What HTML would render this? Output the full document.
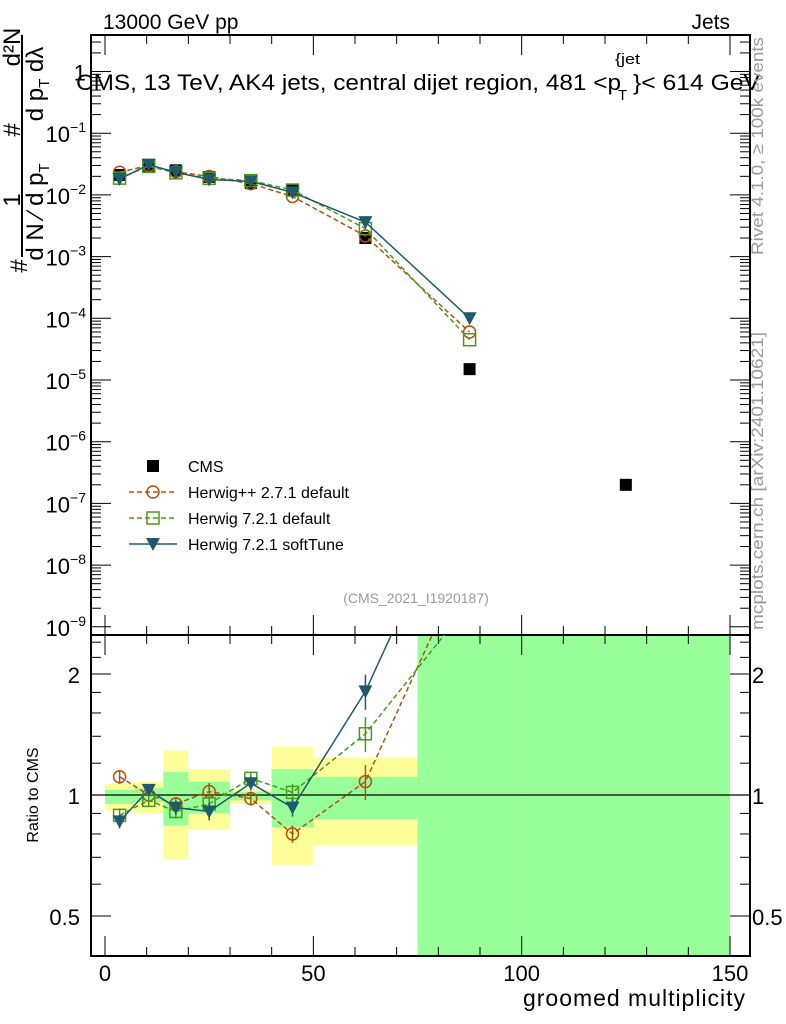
<!DOCTYPE html>
<html><head><meta charset="utf-8">
<style>
html,body{margin:0;background:#fff;overflow:hidden;width:786px;height:1024px;}
svg{display:block;font-family:"Liberation Sans",sans-serif;}
</style></head>
<body>
<svg id="chart" width="786" height="1024" xmlns="http://www.w3.org/2000/svg"></svg>
<script>
const binLo = [0,7,14,20,30,40,50,75,100];
const binHi = [7,14,20,30,40,50,75,100,150];
const binCenters = [3.5,10.5,17,25,35,45,62.5,87.5,125];
const cmsValues = [0.021,0.030,0.025,0.0195,0.0155,0.0118,0.0020,1.5e-5,2.0e-7];
const hppRatio = [1.11,1.0,0.95,1.02,0.98,0.80,1.08];
const h7Ratio = [0.89,0.97,0.91,0.95,1.10,1.015,1.42];
const softRatio = [0.86,1.03,0.93,0.91,1.07,0.93,1.81];
const hppLast = 6.0e-5, h7Last = 4.5e-5, softLast = 1.0e-4;
const ratioErr = [0.04,0.03,0.04,0.05,0.04,0.05,0.1];
const yellowLo = [0.913,0.90,0.69,0.82,0.95,0.67,0.75,0.01,0.01];
const yellowHi = [1.067,1.08,1.29,1.16,1.035,1.32,1.24,100,100];
const greenLo = [0.95,0.96,0.84,0.90,0.97,0.83,0.87,0.01,0.01];
const greenHi = [1.03,1.04,1.14,1.08,1.02,1.16,1.11,100,100];
const xTicks = [0,50,100,150];
const ratioTicks = [0.5,1,2];

const svg = document.getElementById('chart');
const NS = 'http://www.w3.org/2000/svg';
function mk(tag, attrs, parent){const e=document.createElementNS(NS,tag);for(const k in attrs)e.setAttribute(k,attrs[k]);(parent||svg).appendChild(e);return e;}
const L=91,R=750,T1=35,B1=635,B2=956;
const X = v => 105 + v*(730-105)/150;
const Y = v => 71.5 - Math.log10(v)*61.7;
const YR = r => 795 - Math.log2(r)*121;

const defs=mk('defs',{});
const cp=mk('clipPath',{id:'c1'},defs); mk('rect',{x:L,y:T1,width:R-L,height:B1-T1},cp);
const cp2=mk('clipPath',{id:'c2'},defs); mk('rect',{x:L,y:B1,width:R-L,height:B2-B1},cp2);

const bands=mk('g',{'clip-path':'url(#c2)'});


for(let i=0;i<binLo.length;i++){
  const y=mk('rect',{x:X(binLo[i]),y:YR(yellowHi[i]),width:X(binHi[i])-X(binLo[i]),height:YR(yellowLo[i])-YR(yellowHi[i]),fill:'#ffff99'},bands);
  
  
}
for(let i=0;i<binLo.length;i++){
  const g=mk('rect',{x:X(binLo[i]),y:YR(greenHi[i]),width:X(binHi[i])-X(binLo[i]),height:YR(greenLo[i])-YR(greenHi[i]),fill:'#99ff99'},bands);
  
  
}

mk('rect',{x:L,y:T1,width:R-L,height:B1-T1,fill:'none',stroke:'#000','stroke-width':2});
mk('rect',{x:L,y:B1,width:R-L,height:B2-B1,fill:'none',stroke:'#000','stroke-width':2});
mk('line',{x1:L,x2:R,y1:YR(1),y2:YR(1),stroke:'#000','stroke-width':1.3});

for(let v=0;v<=150;v+=10){
  const major = v%50===0;
  const len = major?20:9;
  [[T1,1],[B1,1],[B1,-1],[B2,-1]].forEach(([y0,d])=>mk('line',{x1:X(v),x2:X(v),y1:y0,y2:y0+d*len,stroke:'#000','stroke-width':1}));
}
xTicks.forEach(v=>{const t=mk('text',{x:X(v),y:981,'font-size':22,'text-anchor':'middle'});t.textContent=v;
});
const xt=mk('text',{x:745,y:1006,'font-size':23,'text-anchor':'end',textLength:222});xt.textContent='groomed multiplicity';


for(let d=0;d>=-9;d--){
  for(let m=1;m<10;m++){
    const v=m*Math.pow(10,d); const y=Y(v); if(y<T1||y>B1)continue;
    const len=m===1?20:10;
    mk('line',{x1:L,x2:L+len,y1:y,y2:y,stroke:'#000'});
    mk('line',{x1:R,x2:R-len,y1:y,y2:y,stroke:'#000'});
  }
  const t=mk('text',{x:86,y:Y(Math.pow(10,d))+9,'font-size':22,'text-anchor':'end'});
  if(d===0){t.textContent='1';}
  else{t.textContent='10';const s=mk('tspan',{dy:-10,'font-size':14},t);s.textContent='\u2212'+(-d);}
  
}
[0.5,0.6,0.7,0.8,0.9,1,1.2,1.4,1.6,1.8,2,2.2,2.4].forEach(v=>{
  const major=ratioTicks.includes(v); const len=major?20:10;
  mk('line',{x1:L,x2:L+len,y1:YR(v),y2:YR(v),stroke:'#000'});
  mk('line',{x1:R,x2:R-len,y1:YR(v),y2:YR(v),stroke:'#000'});
});
ratioTicks.forEach(v=>{
  const t=mk('text',{x:80,y:YR(v)+9,'font-size':22,'text-anchor':'end'});t.textContent=v;
  
  const t2=mk('text',{x:752,y:YR(v)+9,'font-size':22});t2.textContent=v;
  
});
const rl=mk('text',{x:0,y:0,'font-size':16,'text-anchor':'middle',transform:'translate(38,795) rotate(-90)'});rl.textContent='Ratio to CMS';


const cOr='#b5500d', cGr='#4a9a1a', cTe='#1d5a6e';
function marker(g,type,x,y,col){
  if(type==='sq') mk('rect',{x:x-6,y:y-6,width:12,height:12,fill:col},g);
  else if(type==='circ') mk('circle',{cx:x,cy:y,r:6,fill:'none',stroke:col,'stroke-width':1.5},g);
  else if(type==='osq') mk('rect',{x:x-6,y:y-6,width:12,height:12,fill:'none',stroke:col,'stroke-width':1.5},g);
  else mk('path',{d:`M${x-7},${y-6}L${x+7},${y-6}L${x},${y+7}Z`,fill:col},g);
}
function series(name,vals,type,col,dash){
  const g=mk('g',{'clip-path':'url(#c1)'}); 
  const pts=vals.map((v,i)=>X(binCenters[i])+','+Y(v)).join(' ');
  mk('polyline',{points:pts,fill:'none',stroke:col,'stroke-width':1.5,'stroke-dasharray':dash},g);
  vals.forEach((v,i)=>marker(g,type,X(binCenters[i]),Y(v),col));
  const g2=mk('g',{'clip-path':'url(#c2)'}); 
  const rr=vals.map((v,i)=>v/cmsValues[i]);
  mk('polyline',{points:rr.map((r,i)=>X(binCenters[i])+','+YR(r)).join(' '),fill:'none',stroke:col,'stroke-width':1.5,'stroke-dasharray':dash},g2);
  rr.forEach((r,i)=>{ if(i<ratioErr.length){
    mk('line',{x1:X(binCenters[i]),x2:X(binCenters[i]),y1:YR(r*(1+ratioErr[i])),y2:YR(r*(1-ratioErr[i])),stroke:col,'stroke-width':1.5},g2);}
    marker(g2,type,X(binCenters[i]),YR(r),col);});
}
const cmsG=mk('g',{'clip-path':'url(#c1)'});
cmsValues.forEach((v,i)=>marker(cmsG,'sq',X(binCenters[i]),Y(v),'#000'));
series('herwigpp',hppRatio.map((r,i)=>r*cmsValues[i]).concat([hppLast]),'circ',cOr,'5,3');
series('herwig7-default',h7Ratio.map((r,i)=>r*cmsValues[i]).concat([h7Last]),'osq',cGr,'5,3');
series('herwig7-softtune',softRatio.map((r,i)=>r*cmsValues[i]).concat([softLast]),'tri',cTe,'');

const leg=mk('g',{});
const entries=[['CMS','sq','#000',null],['Herwig++ 2.7.1 default','circ',cOr,'5,3'],['Herwig 7.2.1 default','osq',cGr,'5,3'],['Herwig 7.2.1 softTune','tri',cTe,'']];
entries.forEach((e,i)=>{
  const y=466+i*26; const g=mk('g',{},leg);
  
  if(e[3]!==null) mk('line',{x1:129,x2:177,y1:y,y2:y,stroke:e[2],'stroke-width':1.5,'stroke-dasharray':e[3]},g);
  marker(g,e[1],153,y,e[2]);
  const t=mk('text',{x:188,y:y+6,'font-size':16},g);t.textContent=e[0];
});

function txt(name,s,attrs){const t=mk('text',attrs);t.textContent=s;return t;}
txt('energy-label','13000 GeV pp',{x:103,y:29,'font-size':21});
txt('process-label','Jets',{x:730,y:29,'font-size':21,'text-anchor':'end'});
txt('plot-title','CMS, 13 TeV, AK4 jets, central dijet region, 481 <p',{x:76,y:90,'font-size':22,textLength:545,lengthAdjust:'spacingAndGlyphs'});
txt('title-subscript','T',{x:618,y:100,'font-size':15});
txt('title-superscript','{jet',{x:615,y:64,'font-size':15,textLength:25,lengthAdjust:'spacingAndGlyphs'});
txt('title-end','}< 614 GeV',{x:633,y:90,'font-size':22,textLength:127,lengthAdjust:'spacingAndGlyphs'});
txt('analysis-id','(CMS_2021_I1920187)',{x:416,y:603,'font-size':14,fill:'#999','text-anchor':'middle'});
txt('rivet-label','Rivet 4.1.0, \u2265 100k events',{x:0,y:0,'font-size':17,fill:'#999','text-anchor':'end',textLength:218,lengthAdjust:'spacingAndGlyphs',transform:'translate(763,37) rotate(-90)'});
txt('mcplots-label','mcplots.cern.ch [arXiv:2401.10621]',{x:0,y:0,'font-size':17,fill:'#999','text-anchor':'end',textLength:298,lengthAdjust:'spacingAndGlyphs',transform:'translate(763,332) rotate(-90)'});
const yt=mk('g',{});
mk('line',{x1:22,x2:22,y1:35,y2:257,stroke:'#000','stroke-width':2},yt);
[['d²N',20,47],['#',20,130],['1',20,200],['# ',27,266]].forEach(([s,x,y])=>{const t=mk('text',{'font-size':24,'text-anchor':'middle',transform:`translate(${x},${y}) rotate(-90)`},yt);t.textContent=s;});
const a=mk('text',{'font-size':24,'text-anchor':'middle',transform:'translate(43,84) rotate(-90)'},yt);
a.textContent='d p';const a1=mk('tspan',{dy:6,'font-size':15},a);a1.textContent='T';const a2=mk('tspan',{dy:-6},a);a2.textContent=' dλ';
const b=mk('text',{'font-size':24,'text-anchor':'middle',transform:'translate(43,212) rotate(-90)'},yt);
b.textContent='d N ⁄ d p';const b1=mk('tspan',{dy:6,'font-size':15},b);b1.textContent='T';
</script>
</body></html>
